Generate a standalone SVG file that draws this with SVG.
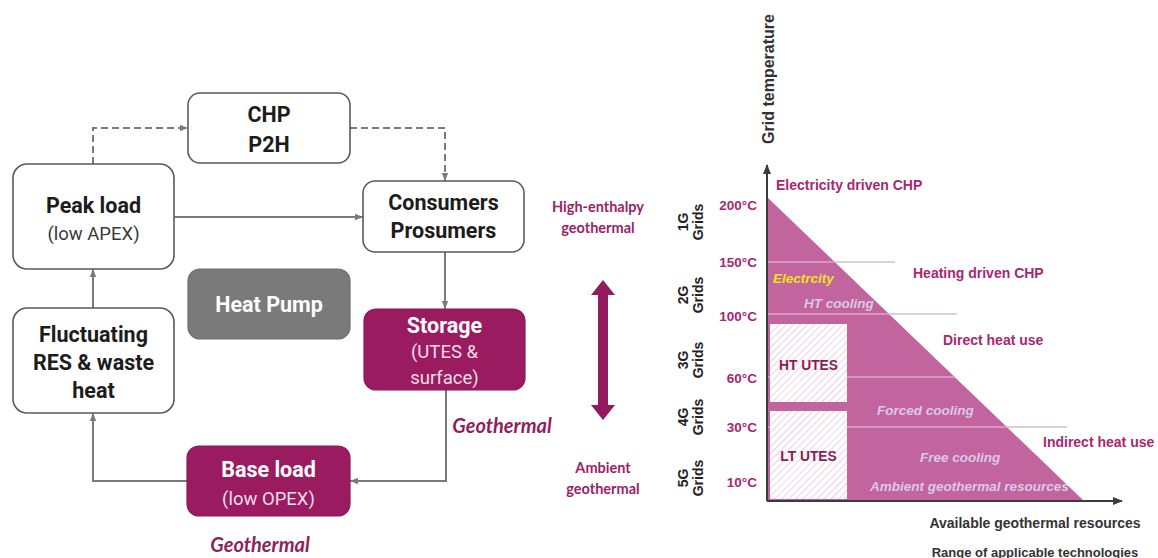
<svg xmlns="http://www.w3.org/2000/svg" width="1158" height="558" viewBox="0 0 1158 558">
  <defs>
    <style>
      .box { fill: #ffffff; stroke: #5a5a5a; stroke-width: 1.6; }
      .hp { fill: #7a7a7a; stroke: #6e6e6e; stroke-width: 1.2; }
      .geo { fill: #9b1b61; stroke: #8e1758; stroke-width: 1.2; }
      .t1 { font-family: Roboto, "Liberation Sans", sans-serif; font-weight: bold; font-size: 21.5px; fill: #1c1c1c; text-anchor: middle; }
      .t2 { font-family: Roboto, "Liberation Sans", sans-serif; font-size: 18.5px; fill: #3a3a3a; text-anchor: middle; }
      .w1 { fill: #ffffff; }
      .w2 { fill: #f3dde9; }
      .conn { fill: none; stroke: #7a7a7a; stroke-width: 2; }
      .dash { stroke-dasharray: 7 4; }
      .cal { font-family: Lato, "Open Sans", sans-serif; font-weight: bold; fill: #9b2266; text-anchor: middle; }
      .geolab { font-family: Lato, "Open Sans", sans-serif; font-weight: bold; font-style: italic; font-size: 20px; fill: #8e1f5c; text-anchor: middle; }
      .ax { fill: none; stroke: #3c3c3c; stroke-width: 2; }
      .temp { font-family: "Liberation Sans", Arial, sans-serif; font-weight: bold; font-size: 13.5px; fill: #a8276f; text-anchor: end; }
      .grid { font-family: "Liberation Sans", Arial, sans-serif; font-weight: bold; font-size: 14px; fill: #222222; text-anchor: middle; }
      .use { font-family: "Liberation Sans", Arial, sans-serif; font-weight: bold; font-size: 14px; fill: #a8276f; }
      .cool { font-family: "Liberation Sans", Arial, sans-serif; font-weight: bold; font-style: italic; font-size: 13.5px; fill: #dcc8ea; }
      .elec { fill: #f2e21c; }
      .utes { font-family: "Liberation Sans", Arial, sans-serif; font-weight: bold; font-size: 13.8px; fill: #8a1d55; text-anchor: middle; }
      .axl { font-family: "Liberation Sans", Arial, sans-serif; font-weight: bold; fill: #333333; text-anchor: middle; }
      .lin { stroke: #dba6c7; stroke-width: 1.5; }
      .lout { stroke: #cdc5c9; stroke-width: 1.5; }
    </style>
    <marker id="ah" viewBox="0 0 10 10" refX="10" refY="5" markerWidth="4" markerHeight="4" orient="auto" markerUnits="strokeWidth">
      <path d="M0,1 L10,5 L0,9 z" fill="#7a7a7a"/>
    </marker>
    <marker id="axh" viewBox="0 0 10 10" refX="9" refY="5" markerWidth="5" markerHeight="5" orient="auto" markerUnits="strokeWidth">
      <path d="M0,1 L10,5 L0,9 z" fill="#3c3c3c"/>
    </marker>
    <pattern id="hatch" width="5" height="5" patternUnits="userSpaceOnUse" patternTransform="rotate(45)">
      <rect width="5" height="5" fill="#ffffff"/>
      <line x1="0" y1="0" x2="0" y2="5" stroke="#e2b9d2" stroke-width="1.3"/>
    </pattern>
  </defs>

  <rect width="1158" height="558" fill="#ffffff"/>

  <!-- connectors of the flow scheme -->
  <g id="connectors">
    <path class="conn dash" d="M93,164 V128 H188" marker-end="url(#ah)"/>
    <path class="conn dash" d="M350,128 H445 V181" marker-end="url(#ah)"/>
    <path class="conn" d="M174,217 H363" marker-end="url(#ah)"/>
    <path class="conn" d="M445,252 V309" marker-end="url(#ah)"/>
    <path class="conn" d="M446,390 V481 H350" marker-end="url(#ah)"/>
    <path class="conn" d="M187,481 H93 V413" marker-end="url(#ah)"/>
    <path class="conn" d="M93,308 V269" marker-end="url(#ah)"/>
  </g>

  <!-- nodes -->
  <g id="chp">
    <rect class="box" x="188" y="93" width="162" height="70" rx="12"/>
    <text class="t1" x="269" y="122">CHP</text>
    <text class="t1" x="269" y="152">P2H</text>
  </g>
  <g id="peak-load">
    <rect class="box" x="13" y="164" width="161" height="105" rx="14"/>
    <text class="t1" x="93.5" y="213">Peak load</text>
    <text class="t2" x="93.5" y="240">(low APEX)</text>
  </g>
  <g id="consumers">
    <rect class="box" x="363" y="181" width="161" height="71" rx="12"/>
    <text class="t1" x="443.5" y="210">Consumers</text>
    <text class="t1" x="443.5" y="238">Prosumers</text>
  </g>
  <g id="heat-pump">
    <rect class="hp" x="188" y="269" width="162" height="70" rx="12"/>
    <text class="t1 w1" x="269" y="312">Heat Pump</text>
  </g>
  <g id="fluctuating">
    <rect class="box" x="13" y="308" width="161" height="105" rx="14"/>
    <text class="t1" x="93.5" y="342">Fluctuating</text>
    <text class="t1" x="93.5" y="370">RES &amp; waste</text>
    <text class="t1" x="93.5" y="398">heat</text>
  </g>
  <g id="storage">
    <rect class="geo" x="364" y="309" width="161" height="81" rx="12"/>
    <text class="t1 w1" x="444.5" y="333">Storage</text>
    <text class="t2 w2" x="444.5" y="358">(UTES &amp;</text>
    <text class="t2 w2" x="444.5" y="384">surface)</text>
  </g>
  <g id="base-load">
    <rect class="geo" x="187" y="446" width="163" height="70" rx="12"/>
    <text class="t1 w1" x="268.5" y="477">Base load</text>
    <text class="t2 w2" x="268.5" y="505">(low OPEX)</text>
  </g>
  <text class="geolab" x="502" y="433">Geothermal</text>
  <text class="geolab" x="260" y="552">Geothermal</text>

  <!-- enthalpy scale -->
  <g id="enthalpy">
    <text class="cal" x="598" y="212" font-size="14.5">High-enthalpy</text>
    <text class="cal" x="598" y="233" font-size="14.5">geothermal</text>
    <path d="M603,280 L615,295 L608,295 L608,405 L615,405 L603,420 L591,405 L598,405 L598,295 L591,295 Z" fill="#931a5c"/>
    <text class="cal" x="603" y="473" font-size="14.5">Ambient</text>
    <text class="cal" x="603" y="494" font-size="14.5">geothermal</text>
  </g>

  <!-- grid temperature chart -->
  <g id="chart">
    <polygon points="767,197 767,501 1084,501" fill="#c2649e"/>
    <line class="lin" x1="767" y1="262" x2="835" y2="262"/>
    <line class="lout" x1="835" y1="262" x2="895" y2="262"/>
    <line class="lin" x1="767" y1="314" x2="889" y2="314"/>
    <line class="lout" x1="889" y1="314" x2="957" y2="314"/>
    <line class="lin" x1="767" y1="377" x2="955" y2="377"/>
    <line class="lin" x1="767" y1="427" x2="1007" y2="427"/>
    <line class="lout" x1="1007" y1="427" x2="1067" y2="427"/>
    <rect x="770" y="324" width="77" height="78" fill="url(#hatch)"/>
    <rect x="770" y="411" width="77" height="88" fill="url(#hatch)"/>
    <text class="utes" x="808.5" y="370">HT UTES</text>
    <text class="utes" x="808.5" y="461">LT UTES</text>

    <path class="ax" d="M767,501 V165" marker-end="url(#axh)"/>
    <path class="ax" d="M767,501 H1122" marker-end="url(#axh)"/>
    <text class="axl" font-size="16" transform="translate(774,79) rotate(-90)">Grid temperature</text>
    <text class="axl" font-size="14" x="1035" y="528">Available geothermal resources</text>
    <text class="axl" font-size="13" x="1035" y="557">Range of applicable technologies</text>

    <text class="temp" x="757" y="210">200°C</text>
    <text class="temp" x="757" y="267">150°C</text>
    <text class="temp" x="757" y="321">100°C</text>
    <text class="temp" x="757" y="383">60°C</text>
    <text class="temp" x="757" y="432">30°C</text>
    <text class="temp" x="757" y="487">10°C</text>

    <text class="grid" transform="translate(689,222) rotate(-90)"><tspan x="0" y="-1">1G</tspan><tspan x="0" y="14">Grids</tspan></text>
    <text class="grid" transform="translate(689,295) rotate(-90)"><tspan x="0" y="-1">2G</tspan><tspan x="0" y="14">Grids</tspan></text>
    <text class="grid" transform="translate(689,360) rotate(-90)"><tspan x="0" y="-1">3G</tspan><tspan x="0" y="14">Grids</tspan></text>
    <text class="grid" transform="translate(689,417) rotate(-90)"><tspan x="0" y="-1">4G</tspan><tspan x="0" y="14">Grids</tspan></text>
    <text class="grid" transform="translate(689,478) rotate(-90)"><tspan x="0" y="-1">5G</tspan><tspan x="0" y="14">Grids</tspan></text>

    <text class="use" x="776" y="190">Electricity driven CHP</text>
    <text class="use" x="913" y="278">Heating driven CHP</text>
    <text class="use" x="943" y="345">Direct heat use</text>
    <text class="use" x="1043" y="447">Indirect heat use</text>

    <text class="cool elec" x="773" y="283">Electrcity</text>
    <text class="cool" x="804" y="308">HT cooling</text>
    <text class="cool" x="877" y="415">Forced cooling</text>
    <text class="cool" x="920" y="462">Free cooling</text>
    <text class="cool" x="870" y="491" font-size="12.2">Ambient geothermal resources</text>
  </g>
</svg>
